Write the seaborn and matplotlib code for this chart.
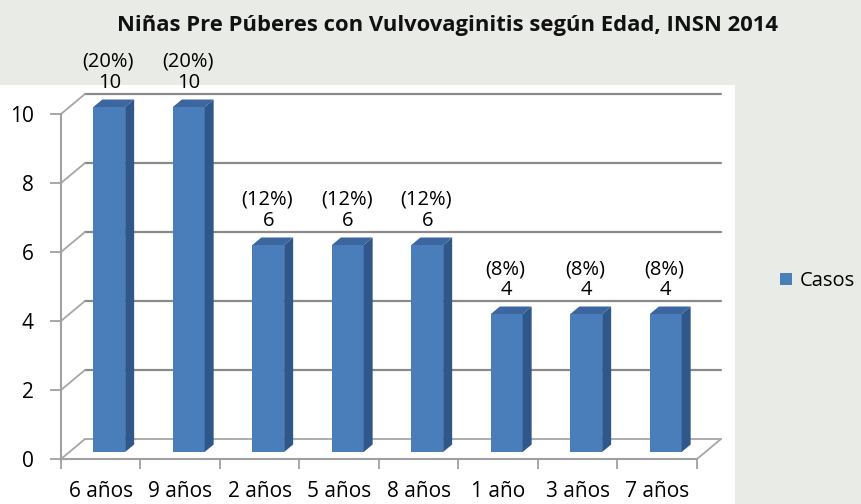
import numpy as np
import matplotlib
matplotlib.use("Agg")
import matplotlib.pyplot as plt
import matplotlib.patches as mpatches
from matplotlib.transforms import offset_copy
import seaborn as sns

# Datos del gráfico
edades = ["6 años", "9 años", "2 años", "5 años", "8 años", "1 año", "3 años", "7 años"]
casos = [10, 10, 6, 6, 6, 4, 4, 4]
porcentajes = ["(20%)", "(20%)", "(12%)", "(12%)", "(12%)", "(8%)", "(8%)", "(8%)"]
marcas_y = [0, 2, 4, 6, 8, 10]
titulo = "Niñas Pre Púberes con Vulvovaginitis según Edad, INSN 2014"
serie = "Casos"

sns.set_style("white")
plt.rcParams["font.family"] = ["Open Sans", "DejaVu Sans"]
plt.rcParams["text.color"] = "black"
plt.rcParams["xtick.color"] = "black"
plt.rcParams["ytick.color"] = "black"

W, H = 862, 504
fig = plt.figure(figsize=(W / 100, H / 100), dpi=100)
fig.patch.set_facecolor("#e8ebe6")
# zona blanca del área de trazado
fig.patches.append(mpatches.Rectangle((0, 0), 735 / W, (H - 85) / H,
                                      transform=fig.transFigure,
                                      facecolor="white", edgecolor="none", zorder=-5))

ax = fig.add_axes([61 / W, 45 / H, 636 / W, 345 / H])
ax.set_facecolor("none")

sns.barplot(x=edades, y=casos, color="#4a7ebb", saturation=1, width=0.4,
            label=serie, ax=ax, zorder=3)
ax.set_xlim(-0.5, len(edades) - 0.5)
ax.set_ylim(0, 10)

# desplazamientos de la perspectiva (pixeles)
FDX, FDY = 24, 20      # profundidad del piso / pared
BDX, BDY = 8.5, 7      # posición de la cara frontal de la barra
SDX, SDY = 9, 7.5      # profundidad de la barra
fondo = offset_copy(ax.transData, fig=fig, x=FDX, y=FDY, units="dots")
inv = ax.transData.inverted()


def desplazar(x, y, dx, dy):
    px, py = ax.transData.transform((x, y))
    return inv.transform((px + dx, py + dy))


gris = "#8a8a8a"
x0, x1 = -0.5, len(edades) - 0.5
# líneas de la pared del fondo
for v in marcas_y[1:]:
    ax.plot([x0, x1], [v, v], transform=fondo, color=gris, lw=1.6,
            clip_on=False, zorder=1)
# diagonales de la pared lateral
for v in marcas_y:
    bx, by = desplazar(x0, v, FDX, FDY)
    ax.plot([x0, bx], [v, by], color="#a6a6a6", lw=1.3, clip_on=False, zorder=1)
# piso
ax.plot([x0, x1], [0, 0], transform=fondo, color="#a6a6a6", lw=1.3,
        clip_on=False, zorder=1)
bx, by = desplazar(x1, 0, FDX, FDY)
ax.plot([x1, bx], [0, by], color="#a6a6a6", lw=1.3, clip_on=False, zorder=1)

# barras en 3D: cara frontal desplazada, lateral y superior
frente = offset_copy(ax.transData, fig=fig, x=BDX, y=BDY, units="dots")
for p, pct in zip(ax.patches, porcentajes):
    p.set_transform(frente)
    p.set_clip_on(False)
    p.set_edgecolor("none")
    xa, w, h = p.get_x(), p.get_width(), p.get_height()
    a = desplazar(xa + w, 0, BDX, BDY)
    b = desplazar(xa + w, h, BDX, BDY)
    c = desplazar(xa + w, h, BDX + SDX, BDY + SDY)
    d = desplazar(xa + w, 0, BDX + SDX, BDY + SDY)
    e = desplazar(xa, h, BDX, BDY)
    f = desplazar(xa, h, BDX + SDX, BDY + SDY)
    ax.add_patch(mpatches.Polygon([a, b, c, d], closed=True, facecolor="#30578a",
                                  edgecolor="none", clip_on=False, zorder=3))
    ax.add_patch(mpatches.Polygon([e, b, c, f], closed=True, facecolor="#3b66a0",
                                  edgecolor="none", clip_on=False, zorder=3))
    xc = xa + w / 2
    ax.annotate(f"{h:g}", (xc, h), xytext=(BDX, 31), textcoords="offset pixels",
                ha="center", va="center", fontsize=14.5, annotation_clip=False)
    ax.annotate(pct, (xc, h), xytext=(BDX - 1, 52), textcoords="offset pixels",
                ha="center", va="center", fontsize=14.5, annotation_clip=False)

# ejes
for s in ["top", "right"]:
    ax.spines[s].set_visible(False)
for s in ["left", "bottom"]:
    ax.spines[s].set_color("#a0a0a0")
    ax.spines[s].set_linewidth(1.5)
ax.set_yticks(marcas_y)
ax.set_xticks(np.arange(-0.5, len(edades), 1), minor=True)
ax.tick_params(axis="y", left=True, length=8, width=1.3, color="#a0a0a0",
               labelcolor="black", pad=11.5, labelsize=15)
ax.tick_params(axis="x", which="major", bottom=True, length=0, pad=16,
               labelcolor="black", labelsize=15)
ax.tick_params(axis="x", which="minor", bottom=True, length=7, width=1.3,
               color="#a0a0a0")
ax.set_xlabel("")
ax.set_ylabel("")

ax.legend(loc="center left", bbox_to_anchor=(780 / W, 1 - 281 / H),
          bbox_transform=fig.transFigure, frameon=False, fontsize=14.5,
          handlelength=0.6, handleheight=0.6, handletextpad=0.4,
          borderpad=0, borderaxespad=0, labelcolor="black")

fig.text(448 / W, 1 - 25 / H, titulo, ha="center", va="center",
         fontsize=15.8, fontweight="bold", color="#111111")

fig.savefig("out.png", dpi=100, facecolor=fig.get_facecolor())
